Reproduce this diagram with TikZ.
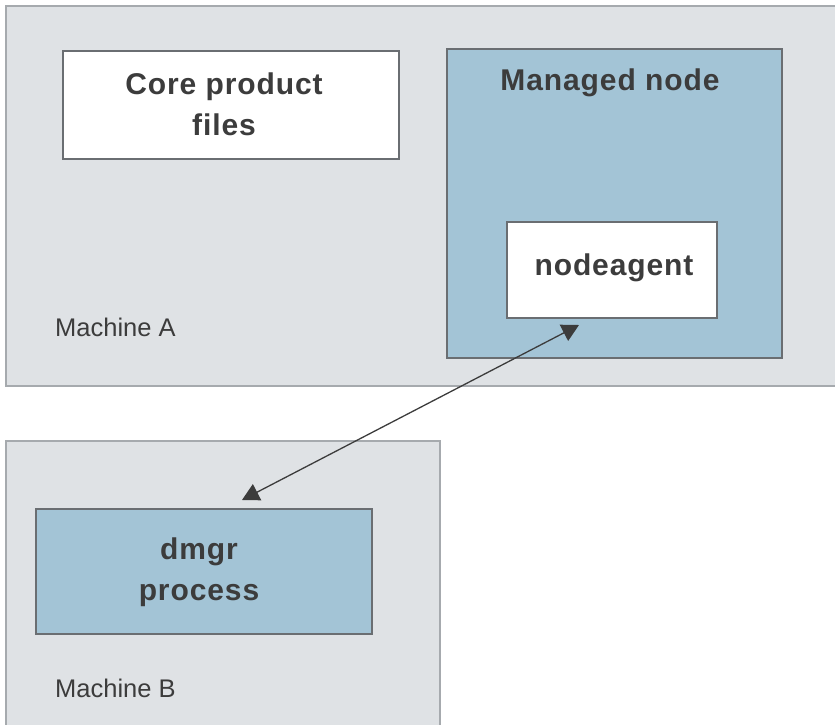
\documentclass[tikz,border=0pt]{standalone}
\usepackage{fontspec}
\setmainfont{Liberation Sans}
\newfontfamily\boldlab[LetterSpace=3]{Liberation Sans Bold}
\usetikzlibrary{arrows.meta,calc}
\definecolor{machfill}{HTML}{DFE2E5}
\definecolor{machline}{HTML}{A6AAAE}
\definecolor{bluefill}{HTML}{A3C4D6}
\definecolor{boxline}{HTML}{6A6E72}
\definecolor{txt}{HTML}{3C3C3C}
\tikzset{
  machine/.style={draw=machline, fill=machfill, line width=2pt},
  bluebox/.style={draw=boxline, fill=bluefill, line width=1.8pt},
  whitebox/.style={draw=boxline, fill=white, line width=1.8pt},
  boldtext/.style={text=txt, font=\boldlab\fontsize{30}{41}\selectfont, align=center, inner sep=0pt},
  machtext/.style={text=txt, font=\fontsize{25.5}{30}\selectfont, anchor=west, inner sep=0pt},
  link/.style={draw=txt, line width=1.3pt, {Triangle[length=17pt,width=18pt]}-{Triangle[length=17pt,width=18pt]}}
}
\begin{document}
\begin{tikzpicture}[x=1pt,y=-1pt]
\useasboundingbox (0,0) rectangle (835,725);
\begin{scope}
\clip (0,0) rectangle (835,725);
% Machine A
\draw[machine] (6,6) rectangle (840,386);
\node[machtext] (machA) at (55,327) {Machine A};
\draw[whitebox] (63,51) rectangle (399,159);
\node[boldtext] (core) at (224,104) {Core product\\files};
\draw[bluebox] (447,49) rectangle (782,358);
\node[boldtext] (managed) at (610,83) {Managed node};
\draw[whitebox] (507,222) rectangle (717,318);
\node[boldtext] (nodeagent) at (614,268) {nodeagent};
% Machine B
\draw[machine] (6,441) rectangle (440,740);
\draw[bluebox] (36,509) rectangle (372,634);
\node[boldtext] (dmgr) at (199,572) {dmgr\\process};
\node[machtext] (machB) at (55,688) {Machine B};
% connector
\coordinate (endA) at (579,325);
\coordinate (endB) at (242,500);
\draw[link] (endB) -- (endA);
\end{scope}
\end{tikzpicture}
\end{document}
